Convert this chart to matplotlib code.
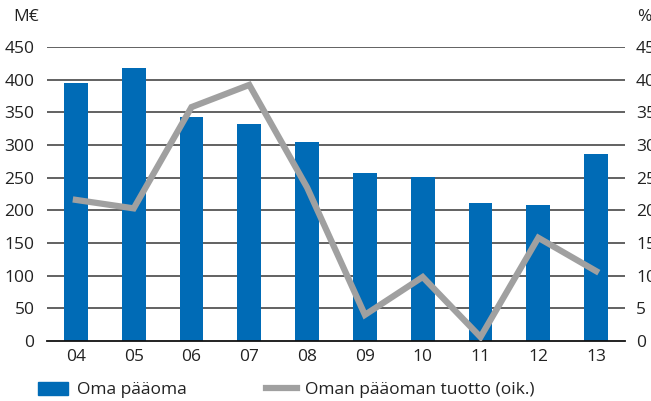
import matplotlib.pyplot as plt
from matplotlib.patches import Patch
from matplotlib.lines import Line2D

# Data
years = ["04", "05", "06", "07", "08", "09", "10", "11", "12", "13"]
equity = [395, 418, 343, 332, 305, 257, 251, 211, 208, 286]   # M€
roe = [21.6, 20.3, 35.8, 39.2, 23.5, 4.0, 9.8, 0.6, 15.8, 10.7]  # %

left_ticks = [0, 50, 100, 150, 200, 250, 300, 350, 400, 450]
right_ticks = [0, 5, 10, 15, 20, 25, 30, 35, 40, 45]

blue = "#006bb6"
grey = "#a0a0a0"
plt.rcParams["font.family"] = ["Open Sans", "DejaVu Sans"]
fs = 12.5

fig = plt.figure(figsize=(6.51, 4.01), dpi=100)
ax = fig.add_axes([47 / 651, 60 / 401, 578 / 651, 294 / 401])
x = range(len(years))

ax.set_axisbelow(True)
for t in left_ticks[1:]:
    ax.axhline(t, color="#555555", lw=1.3, zorder=0)
ax.bar(x, equity, width=0.415, color=blue, zorder=2)
ax.set_xlim(-0.5, 9.5)
ax.set_ylim(0, 450)
ax.set_yticks(left_ticks)
ax.set_xticks(list(x))
ax.set_xticklabels(years)
for s in ["top", "right", "left"]:
    ax.spines[s].set_visible(False)
ax.spines["bottom"].set_color("#111111")
ax.spines["bottom"].set_linewidth(1.3)
ax.tick_params(axis="both", length=0, labelsize=fs, colors="#222222")
ax.tick_params(axis="y", pad=9)
ax.tick_params(axis="x", pad=6)

# return on equity, right axis (labels cut at the figure edge as in the original)
ax2 = ax.twinx()
ax2.plot(x, roe, color=grey, lw=4.5, solid_joinstyle="miter", zorder=3)
ax2.set_ylim(0, 45)
ax2.set_yticks(right_ticks)
for s in ["top", "right", "left", "bottom"]:
    ax2.spines[s].set_visible(False)
ax2.tick_params(axis="y", length=0, labelsize=fs, colors="#222222", pad=8)

fig.text(13 / 651, 1 - 17 / 401, "M€", fontsize=fs, color="#222222", va="center")
fig.text(637 / 651, 1 - 17 / 401, "%", fontsize=fs, color="#222222", va="center")

handles = [Patch(color=blue), Line2D([], [], color=grey, lw=4.5)]
labels = ["Oma pääoma", "Oman pääoman tuotto (oik.)"]
fig.legend(handles, labels, loc="center left", bbox_to_anchor=(22 / 651, 1 - 390 / 401),
           ncol=2, frameon=False, fontsize=fs, handlelength=1.75, handleheight=0.8,
           handletextpad=0.5, columnspacing=4.6, labelcolor="#222222")

fig.savefig("out.png", dpi=100)
